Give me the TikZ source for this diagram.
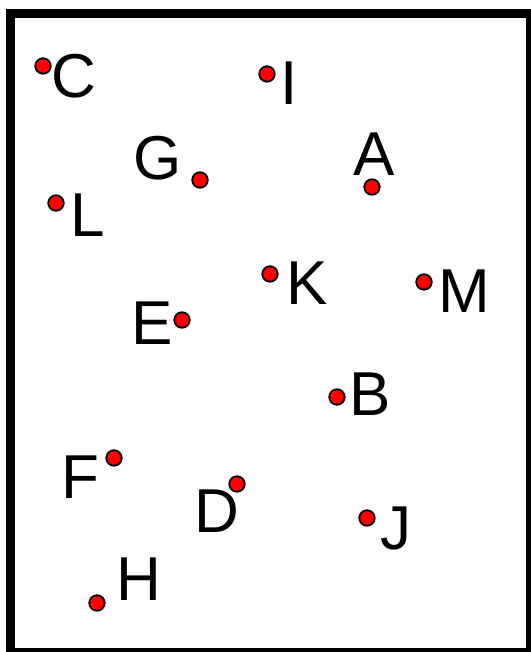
\documentclass[tikz,border=0pt]{standalone}
\usepackage{fontspec}
\setmainfont{Liberation Sans}
\begin{document}
\begin{tikzpicture}[x=1pt,y=1pt,
  pt/.style={circle,draw=black,line width=1.8pt,fill=red,minimum size=15.5pt,inner sep=0pt},
  lab/.style={font=\fontsize{62}{62}\selectfont,inner sep=0pt,text height=44.4pt,text depth=0pt}]
\useasboundingbox (0,0) rectangle (530,652);
\fill[white] (0,0) rectangle (530,652);
\draw[line width=9.5pt] (10.25,-0.75) rectangle (530.75,638.5);
% points: name, dot x,y (image coords), label x,y
\foreach \n/\dx/\dy/\lx/\ly in {C/43/66/74/75, I/267/74/289/82, G/200/180/158/157, A/372/187/374/153,
  L/56/203/88/214, K/270/274/307/282, M/424/282/464/290, E/182/320/152/322, B/337/397/370/393,
  F/114/458/80/476, D/237/484/217/510, J/367/518/396/527, H/97/603/139/578}{
  \node[pt] (d\n) at (\dx,652-\dy) {};
  \node[lab] (l\n) at (\lx,652-\ly) {\n};
}
\end{tikzpicture}
\end{document}
